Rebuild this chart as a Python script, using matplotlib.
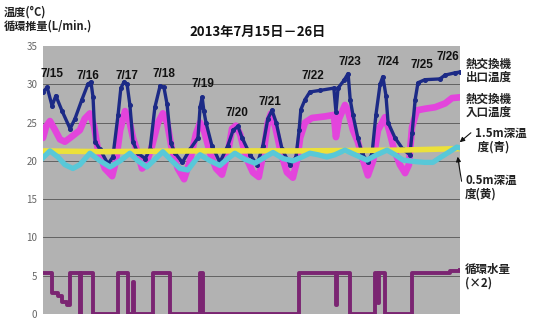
import matplotlib
matplotlib.use("Agg")
import matplotlib.pyplot as plt

JP = ["Noto Sans CJK JP", "DejaVu Sans"]
plt.rcParams["font.family"] = JP

# time axis: days since 7/15 00:00 (12 days shown)
out_t = [0.00, 0.12, 0.26, 0.37, 0.55, 0.78, 0.92, 1.12, 1.29, 1.38, 1.44, 1.50,
         1.64, 1.87, 2.01, 2.16, 2.24, 2.33, 2.42, 2.50, 2.59, 2.73, 2.94, 3.08,
         3.22, 3.37, 3.48, 3.57, 3.68, 3.80, 4.01, 4.23, 4.46, 4.52, 4.58, 4.63,
         4.69, 4.86, 5.09, 5.32, 5.47, 5.61, 5.73, 5.96, 6.16, 6.33, 6.47, 6.59,
         6.71, 6.88, 7.11, 7.28, 7.37, 7.42, 7.54, 7.68, 7.97, 8.37, 8.43, 8.49,
         8.66, 8.78, 8.84, 8.92, 9.06, 9.18, 9.35, 9.47, 9.58, 9.70, 9.78, 9.87,
         9.93, 10.13, 10.36, 10.56, 10.62, 10.71, 10.79, 10.99, 11.42, 11.57,
         11.86, 12.00]
out_temp = [29.0, 29.6, 27.2, 28.5, 26.5, 24.2, 25.5, 28.0, 30.0, 30.3, 28.3, 22.5,
            21.5, 19.6, 20.5, 26.0, 29.5, 30.3, 30.0, 27.3, 22.5, 21.0, 20.3, 21.5,
            27.0, 29.8, 29.6, 27.4, 22.3, 21.0, 19.8, 21.5, 23.0, 27.0, 28.3, 26.5,
            25.0, 22.0, 19.8, 22.0, 24.0, 24.5, 23.0, 20.8, 19.5, 22.0, 25.5, 26.6,
            25.0, 21.5, 19.5, 20.5, 24.0, 26.7, 28.0, 29.0, 29.2, 29.5, 26.4, 29.5,
            30.5, 31.4, 28.0, 26.0, 23.0, 21.0, 19.8, 21.0, 26.0, 30.0, 31.0, 28.5,
            25.0, 23.0, 21.5, 20.8, 23.6, 28.0, 30.2, 30.6, 30.7, 31.2, 31.5, 31.6]

in_t = [0.00, 0.09, 0.20, 0.35, 0.49, 0.63, 0.78, 0.92, 1.06, 1.20, 1.35, 1.47,
        1.58, 1.78, 1.99, 2.10, 2.22, 2.36, 2.47, 2.59, 2.73, 2.85, 2.96, 3.14,
        3.31, 3.45, 3.57, 3.71, 3.88, 4.06, 4.23, 4.40, 4.52, 4.63, 4.81, 4.98,
        5.15, 5.32, 5.44, 5.55, 5.67, 5.84, 6.04, 6.21, 6.36, 6.47, 6.56, 6.68,
        6.85, 7.02, 7.19, 7.31, 7.40, 7.54, 7.74, 8.11, 8.37, 8.43, 8.52, 8.69,
        8.78, 8.92, 9.06, 9.18, 9.35, 9.50, 9.64, 9.84, 9.96, 10.10, 10.27, 10.42,
        10.53, 10.62, 10.76, 10.99, 11.28, 11.57, 11.77, 12.00]
in_temp = [23.0, 24.5, 25.2, 24.0, 22.8, 22.5, 23.0, 23.5, 24.0, 25.5, 26.2, 24.5,
           21.5, 19.0, 18.0, 20.0, 24.0, 26.5, 25.5, 23.0, 21.0, 19.0, 19.5, 22.0,
           25.0, 26.2, 25.0, 21.5, 19.0, 17.6, 20.0, 23.5, 25.0, 24.0, 21.0, 19.0,
           18.2, 21.0, 24.2, 24.6, 23.5, 20.5, 18.5, 17.9, 21.5, 25.0, 26.2, 24.5,
           21.0, 18.5, 17.8, 20.0, 23.0, 25.0, 25.6, 25.8, 26.0, 23.1, 25.5, 27.3,
           26.5, 24.0, 22.5, 20.5, 18.1, 20.0, 24.0, 25.7, 24.0, 21.5, 19.5, 18.4,
           19.5, 24.4, 26.6, 26.8, 27.0, 27.5, 28.2, 28.3]

deep05_t = [0.0, 1.64, 4.52, 7.40, 10.27, 12.0]
deep05_temp = [21.3, 21.2, 21.3, 21.3, 21.4, 21.6]

deep15_t = [0.00, 0.20, 0.43, 0.63, 0.86, 1.06, 1.35, 1.64, 1.93, 2.22, 2.50, 2.73,
            2.99, 3.22, 3.45, 3.71, 3.94, 4.17, 4.37, 4.52, 4.81, 5.09, 5.32, 5.52,
            5.81, 6.10, 6.39, 6.62, 6.91, 7.19, 7.45, 7.68, 7.91, 8.17, 8.40, 8.69,
            8.98, 9.32, 9.61, 9.90, 10.13, 10.36, 10.71, 10.99, 11.22, 11.42, 11.63,
            11.91, 12.00]
deep15_temp = [20.4, 21.3, 20.5, 19.5, 19.0, 19.5, 21.0, 20.0, 19.2, 20.0, 21.0, 20.0,
               19.2, 20.2, 21.2, 20.0, 19.0, 18.8, 20.0, 20.8, 20.0, 19.4, 20.3, 21.0,
               20.2, 19.7, 20.5, 21.1, 20.3, 20.0, 20.5, 21.0, 20.8, 20.5, 20.8, 21.4,
               20.8, 20.1, 20.8, 21.4, 20.8, 20.1, 19.9, 19.8, 19.8, 20.4, 21.0,
               21.8, 21.7]

# circulation flow (x2), step changes
flow_t = [0.00, 0.26, 0.43, 0.55, 0.69, 0.78, 1.06, 1.09, 1.44, 2.16, 2.45, 2.59,
          2.62, 3.17, 3.65, 4.52, 4.60, 7.37, 8.43, 8.46, 8.84, 9.55, 9.64, 9.67,
          9.84, 10.62, 11.71, 12.00]
flow_val = [5.4, 2.7, 2.3, 1.6, 1.2, 5.4, 0.0, 5.4, 0.0, 5.4, 0.0, 4.2,
            0.0, 5.4, 0.0, 5.4, 0.0, 5.4, 1.2, 5.4, 0.0, 5.4, 1.5, 5.4,
            0.0, 5.4, 5.6, 5.8]

day_labels = ["7/15", "7/16", "7/17", "7/18", "7/19", "7/20", "7/21", "7/22",
              "7/23", "7/24", "7/25", "7/26"]
label_x = [0.26, 1.29, 2.42, 3.48, 4.60, 5.58, 6.53, 7.77, 8.84, 9.93, 10.91, 11.65]
label_y = [31.3, 31.1, 31.1, 31.4, 30.0, 26.3, 27.7, 31.1, 32.9, 32.9, 32.5, 33.5]

yticks = [0, 5, 10, 15, 20, 25, 30, 35]

W, H = 533, 320
fig = plt.figure(figsize=(W / 100, H / 100), dpi=100)
ax = fig.add_axes([43 / W, 1 - 314 / H, 417 / W, 268 / H])
ax.set_facecolor("#b2b2b2")
ax.set_xlim(0, 12)
ax.set_ylim(0, 35)
for s in ax.spines.values():
    s.set_visible(False)
ax.set_xticks([])
ax.set_yticks(yticks)
ax.tick_params(axis="y", length=0, pad=4, labelsize=7, labelcolor="#666666")
for v in yticks[1:-1]:
    ax.axhline(v, color="#555555", lw=0.6, zorder=1)

ax.plot(in_t, in_temp, color="#e344dc", lw=4.8, solid_capstyle="round", zorder=2)
ax.plot(out_t, out_temp, color="#1c2a86", lw=2.4, marker="o", ms=2.6, zorder=3)
ax.plot(deep05_t, deep05_temp, color="#ece13a", lw=4, zorder=4)
ax.plot(deep15_t, deep15_temp, color="#58c8d8", lw=3.8, zorder=5)
ax.step(flow_t, flow_val, where="post", color="#7b2572", lw=2.8, zorder=3)

for lab, x, y in zip(day_labels, label_x, label_y):
    ax.text(x, y, lab, fontsize=8.5, fontweight="bold", color="#111111",
            ha="center", va="center", family=["Liberation Sans", "DejaVu Sans"])

def ftext(x, y, s, **kw):
    fig.text(x / W, 1 - y / H, s, va="center", **kw)

ftext(4, 12, "温度(°C)", fontsize=8, fontweight="bold", color="#222222")
ftext(4, 26, "循環推量(L/min.)", fontsize=8, fontweight="bold", color="#222222")
ftext(258, 32, "2013年7月15日－26日", fontsize=9.5, fontweight="bold",
      color="#111111", ha="center")

side = dict(fontsize=8.3, fontweight="bold", color="#222222", linespacing=1.05)
ftext(466, 71, "熱交換機\n出口温度", **side)
ftext(466, 106, "熱交換機\n入口温度", **side)
ftext(475, 140, "1.5m深温\n 度(青)", **side)
ftext(465, 187, "0.5m深温\n度(黄)", **side)
ftext(465, 276, "循環水量\n(×2)", **side)

ax.annotate("", xy=(11.93, 22.2), xytext=(473 / W, 1 - 131 / H),
            textcoords="figure fraction",
            arrowprops=dict(arrowstyle="-|>", color="#111111", lw=0.8,
                            mutation_scale=7), annotation_clip=False)
ax.annotate("", xy=(11.92, 20.9), xytext=(462 / W, 1 - 184 / H),
            textcoords="figure fraction",
            arrowprops=dict(arrowstyle="-|>", color="#111111", lw=0.8,
                            mutation_scale=7), annotation_clip=False)

fig.savefig("out.png", dpi=100, facecolor="white")
